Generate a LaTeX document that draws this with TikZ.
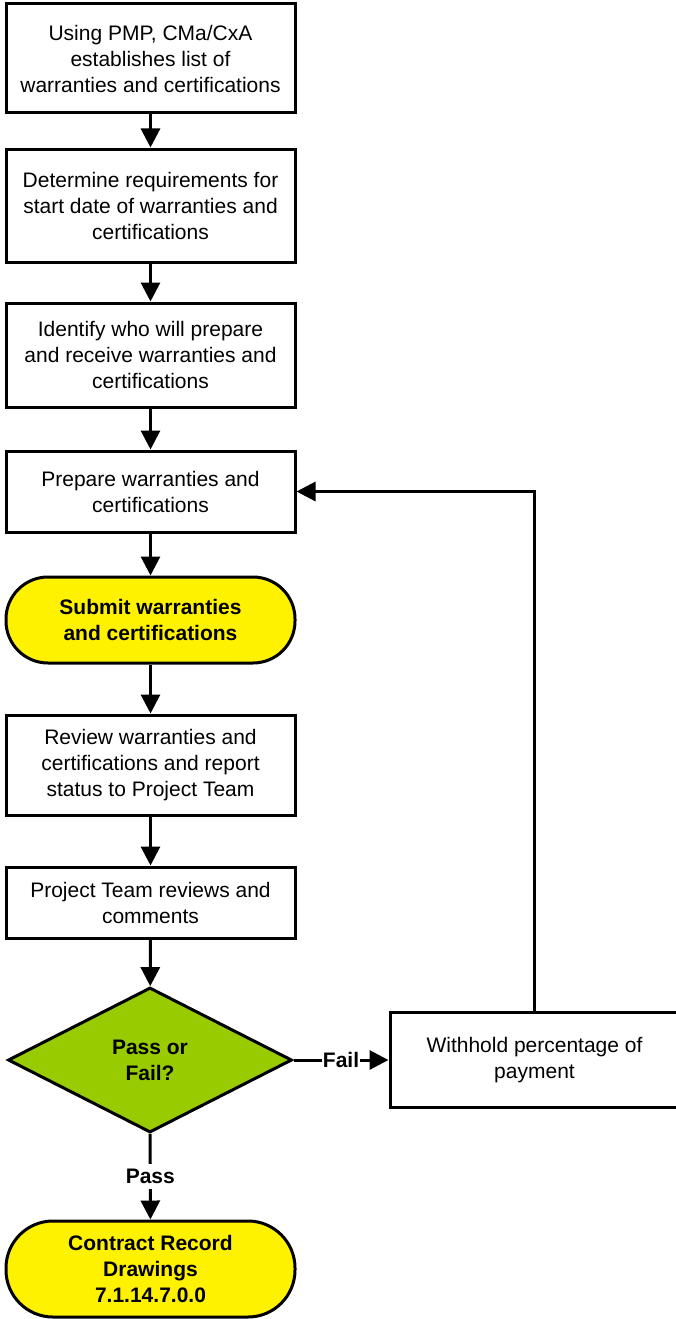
\documentclass[tikz,border=0pt]{standalone}
\usepackage{fontspec}
\setmainfont{Liberation Sans}
\usetikzlibrary{arrows.meta,positioning,shapes.geometric}
\definecolor{passgreen}{RGB}{153,204,0}

\begin{document}
\begin{tikzpicture}[x=1pt,y=-1pt,>={Triangle[length=19pt,width=19pt]},
    stepbox/.style={draw,line width=3pt,minimum width=289pt,inner sep=0pt,align=center,
        font=\fontsize{21}{26}\selectfont},
    termbox/.style={stepbox,fill=yellow,font=\fontsize{21}{26}\selectfont\bfseries},
    decision/.style={diamond,draw,line width=3pt,fill=passgreen,minimum width=284pt,
        minimum height=145pt,inner sep=0pt,align=center,font=\fontsize{21}{26}\selectfont\bfseries},
    flow/.style={->,line width=3pt},
    lbl/.style={fill=white,inner xsep=1pt,inner ysep=5pt,font=\fontsize{21}{26}\selectfont\bfseries}]
    \useasboundingbox (0,0) rectangle (676,1319);

    % Main column
    \node[stepbox,minimum height=109pt] (list) at (150.5,58.5)
        {Using PMP, CMa/CxA\\establishes list of\\warranties and certifications};
    \node[stepbox,minimum height=113pt] (start) at (150.5,205.5)
        {Determine requirements for\\start date of warranties and\\certifications};
    \node[stepbox,minimum height=104pt] (who) at (150.5,355)
        {Identify who will prepare\\and receive warranties and\\certifications};
    \node[stepbox,minimum height=81pt] (prep) at (150.5,491.5)
        {Prepare warranties and\\certifications};
    \node[termbox,minimum height=86pt,rounded corners=42pt] (submit) at (150.5,620)
        {Submit warranties\\and certifications};
    \node[stepbox,minimum height=100pt] (review) at (150.5,765)
        {Review warranties and\\certifications and report\\status to Project Team};
    \node[stepbox,minimum height=71pt] (team) at (150.5,902.5)
        {Project Team reviews and\\comments};
    \node[decision] (pass) at (150,1060) {Pass or\\Fail?};
    \node[termbox,minimum height=96pt,rounded corners=47pt] (record) at (150.5,1269)
        {Contract Record\\Drawings\\7.1.14.7.0.0};

    % Fail branch
    \node[stepbox,minimum height=95pt] (withhold) at (534.5,1060)
        {Withhold percentage of\\payment};

    % Connectors
    \draw[flow] (list) -- (start);
    \draw[flow] (start) -- (who);
    \draw[flow] (who) -- (prep);
    \draw[flow] (prep) -- (submit);
    \draw[flow] (submit) -- (review);
    \draw[flow] (review) -- (team);
    \draw[flow] (team) -- (pass);
    \draw[flow] (pass) -- node[lbl] {Fail} (withhold);
    \draw[flow] (pass) -- node[lbl] {Pass} (record);
    \draw[flow] (withhold.north) |- (prep.east);
\end{tikzpicture}
\end{document}
